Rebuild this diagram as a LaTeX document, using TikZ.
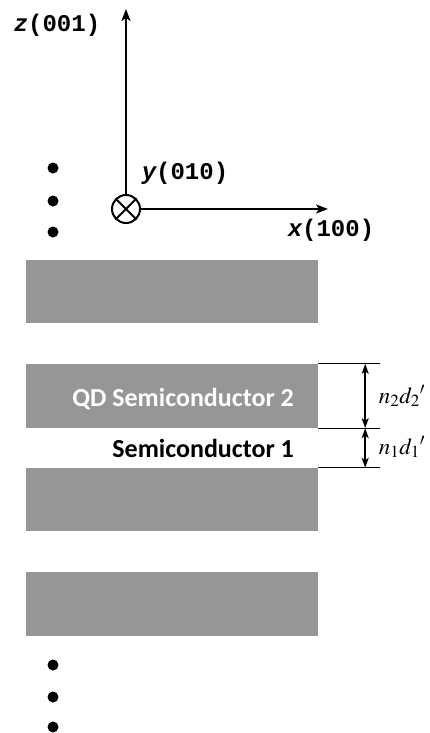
\documentclass[tikz,border=0pt]{standalone}
\usepackage{mathptmx}
\usepackage{fontspec}
\setmainfont{Carlito}
\newfontfamily\axisfont{Liberation Mono}
\usetikzlibrary{arrows.meta}
\definecolor{layergray}{RGB}{150,150,150}

\begin{document}
\begin{tikzpicture}[x=1pt,y=-1pt,>={Stealth[length=12pt,width=9pt,inset=3pt]},
  layer/.style={fill=layergray,minimum width=292pt,minimum height=63pt,inner sep=0pt},
  axlabel/.style={font=\axisfont\bfseries\fontsize{24}{26}\selectfont,inner sep=0pt},
  semilabel/.style={font=\bfseries\fontsize{26}{28}\selectfont,anchor=base east,inner sep=0pt},
  dimlabel/.style={font=\fontsize{23}{25}\selectfont,inner sep=0pt},
  dim/.style={line width=1.6pt,{Stealth[length=10pt,width=7pt,inset=2.5pt]}-{Stealth[length=10pt,width=7pt,inset=2.5pt]}}]
\useasboundingbox (0,0) rectangle (430,733);

\node[draw,circle,line width=2pt,minimum size=28pt,inner sep=0pt] (yax) at (126,209) {};
\draw[line width=2pt] (yax.north west) -- (yax.south east) (yax.north east) -- (yax.south west);
\coordinate (ztip) at (126,9);
\coordinate (xtip) at (328,209);
\draw[->,line width=2pt] (yax.north) -- (ztip);
\draw[->,line width=2pt] (yax.east) -- (xtip);
\node[axlabel] (zlab) at (57,25) {{\itshape z}(001)};
\node[axlabel] (ylab) at (185,173) {{\itshape y}(010)};
\node[axlabel] (xlab) at (331,230) {{\itshape x}(100)};

\foreach \y in {168,201,232,665,697,727}
  \fill (53,\y) circle (5.5pt);

\node[layer] (la) at (172,291.5) {};
\node[layer,minimum height=64pt] (qd) at (172,396) {};
\node[layer] (lc) at (172,499.5) {};
\node[layer,minimum height=64pt] (ld) at (172,604) {};

\node[semilabel,text=white] (qdlab) at (294,406) {QD Semiconductor 2};
\node[semilabel] (s1lab) at (294,457) {Semiconductor 1};

\draw[line width=1pt] (qd.north east) -- +(62,0) coordinate (t1);
\draw[line width=1pt] (qd.south east) -- +(62,0) coordinate (t2);
\draw[line width=1pt] (lc.north east) -- +(62,0) coordinate (t3);
\draw[dim] ([xshift=-15pt]t1) -- ([xshift=-15pt]t2);
\draw[dim] ([xshift=-15pt]t2) -- ([xshift=-15pt]t3);
\node[dimlabel] (n2lab) at (402,396) {$n_2d_2{}'$};
\node[dimlabel] (n1lab) at (402,447) {$n_1d_1{}'$};
\end{tikzpicture}
\end{document}
